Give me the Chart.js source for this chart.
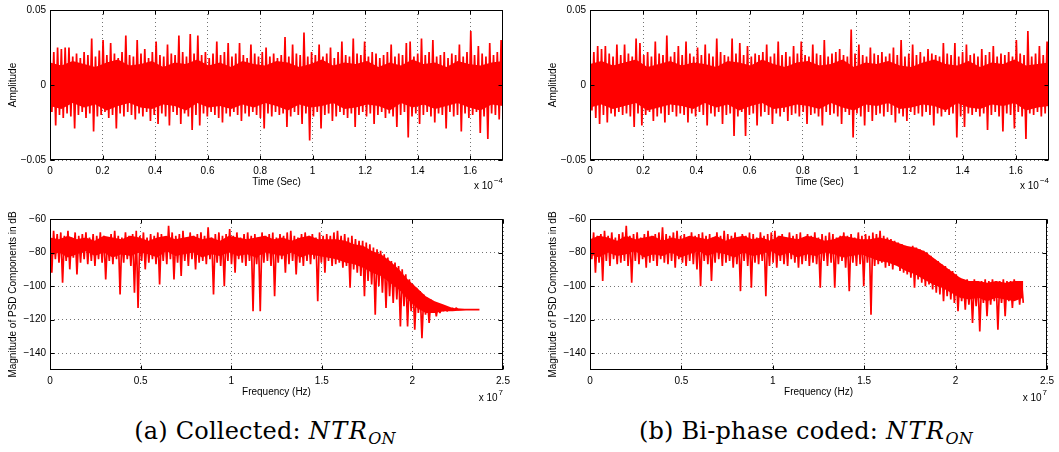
<!DOCTYPE html>
<html>
<head>
<meta charset="utf-8">
<script src="https://cdn.jsdelivr.net/npm/chart.js@4.4.1/dist/chart.umd.min.js"></script>
<style>
  body { margin: 0; background: #fff; width: 1059px; height: 452px; position: relative; overflow: hidden; }
  canvas { position: absolute; }
  .cap { position: absolute; top: 417px; font-family: 'DejaVu Serif', 'Liberation Serif', serif; font-size: 24px; letter-spacing: 0.2px; white-space: nowrap; transform: translateX(-50%); color: #000; }
  .cap i { letter-spacing: 1.5px; }
  .cap sub { font-size: 16px; font-style: italic; vertical-align: -5px; }
</style>
</head>
<body>
<canvas id="timeA" width="530" height="200" style="left:0;top:0"></canvas>
<canvas id="psdA" width="530" height="210" style="left:0;top:200px"></canvas>
<canvas id="timeB" width="519" height="200" style="left:540px;top:0"></canvas>
<canvas id="psdB" width="519" height="210" style="left:540px;top:200px"></canvas>
<div class="cap" style="left:265px">(a) Collected: <i>NTR</i><sub>ON</sub></div>
<div class="cap" style="left:806px">(b) Bi-phase coded: <i>NTR</i><sub>ON</sub></div>
<script>
// axes (time in units of 1e-4 s, frequency in units of 1e7 Hz)
const timeTicks = [0, 0.2, 0.4, 0.6, 0.8, 1, 1.2, 1.4, 1.6];
const tEnd = 1.725;
const ampTicks = [-0.05, 0, 0.05];
const freqTicks = [0, 0.5, 1, 1.5, 2, 2.5];
const fEnd = 2.37;
const dbTicks = [-60, -80, -100, -120, -140];

// time signal envelopes, amplitude in thousandths (peak / trough per sample)
const ampHiA = [20,22,25,24,25,25,19,21,18,22,20,31,19,23,30,20,28,21,18,22,
  33,20,19,30,21,24,18,22,29,20,19,27,21,20,33,22,19,34,21,33,
  20,22,18,21,29,20,22,28,19,21,28,20,18,27,21,19,22,25,19,21,
  18,20,32,19,27,21,20,35,19,22,20,27,19,21,25,18,22,29,20,19,
  31,21,20,29,19,22,21,18,20,22,27,19,21,20,28,29,19,21,31,20,
  22,30,19,20,22,18,21,20,27,19,22,36,20,26,21,19,28,20,22,30];
const ampLoA = [-18,-27,-20,-22,-19,-21,-29,-20,-18,-22,-19,-31,-21,-20,-18,-22,-20,-29,-19,-21,
  -18,-20,-23,-19,-21,-18,-24,-20,-26,-19,-21,-27,-18,-20,-26,-19,-21,-30,-20,-27,
  -19,-21,-18,-20,-22,-25,-19,-21,-18,-20,-24,-19,-21,-18,-20,-22,-29,-19,-21,-18,
  -20,-19,-28,-21,-18,-20,-26,-19,-37,-21,-18,-29,-20,-19,-24,-21,-18,-20,-22,-19,
  -28,-20,-18,-21,-19,-26,-20,-18,-22,-19,-21,-28,-20,-18,-35,-21,-19,-26,-20,-18,
  -21,-25,-19,-20,-29,-18,-21,-20,-31,-19,-22,-20,-18,-32,-21,-36,-19,-20,-23,-17];
const ampHiB = [20,22,26,24,26,21,19,27,20,27,21,19,31,28,20,22,19,29,21,20,
  33,19,22,26,20,29,21,19,25,20,27,21,19,31,22,20,19,31,21,28,
  20,26,19,21,20,22,27,19,21,29,20,22,19,26,21,29,20,19,27,21,
  20,30,19,21,22,24,20,19,37,21,27,20,19,25,21,20,22,19,21,25,
  20,30,19,21,27,20,22,19,24,21,20,19,28,21,20,28,19,22,27,20,
  21,19,24,20,22,26,19,21,20,22,19,30,21,20,36,19,21,26,20,29];
const ampLoB = [-17,-22,-26,-20,-25,-19,-21,-18,-20,-19,-21,-28,-19,-27,-20,-18,-24,-21,-19,-25,
  -20,-18,-21,-19,-20,-25,-19,-21,-18,-20,-27,-19,-21,-18,-26,-20,-19,-34,-21,-18,
  -34,-20,-19,-27,-21,-18,-20,-26,-19,-21,-18,-24,-20,-19,-21,-18,-26,-20,-19,-21,
  -27,-18,-20,-19,-21,-26,-18,-20,-35,-19,-21,-27,-18,-24,-20,-19,-21,-18,-20,-25,
  -19,-21,-24,-18,-20,-19,-21,-18,-20,-27,-19,-21,-18,-20,-19,-35,-21,-28,-19,-20,
  -18,-21,-19,-30,-20,-18,-21,-31,-19,-20,-29,-18,-21,-36,-19,-20,-18,-21,-19,-22];
// solid core of the time traces (thousandths), 41 points from 0 to tEnd
const ampCoreTopA = [15,13,16,14,12,15,17,13,14,16,12,15,14,17,13,15,12,16,14,13,16,15,12,14,17,13,15,14,16,12,15,13,17,14,15,12,16,14,13,15,16];
const ampCoreBotA = [-14,-16,-12,-15,-13,-17,-14,-12,-15,-16,-13,-14,-17,-12,-15,-14,-16,-13,-15,-12,-14,-17,-13,-15,-14,-12,-16,-15,-13,-14,-17,-12,-15,-13,-16,-14,-12,-15,-17,-13,-14];
const ampCoreTopB = [14,16,13,15,17,12,14,16,13,15,14,12,16,15,13,17,14,12,15,16,13,14,17,12,15,14,16,13,12,15,17,14,13,16,12,15,14,17,13,14,15];
const ampCoreBotB = [-15,-13,-16,-14,-12,-17,-15,-13,-14,-16,-12,-15,-13,-17,-14,-12,-16,-15,-13,-14,-16,-12,-15,-17,-13,-14,-12,-16,-15,-13,-14,-17,-12,-15,-16,-13,-14,-12,-17,-15,-14];

// PSD envelopes in dB (upper / lower per frequency bin)
const psdHiA = [-71,-67,-69,-68,-70,-67,-71,-68,-70,-69,
  -68,-71,-69,-70,-68,-70,-72,-69,-67,-70,
  -71,-68,-70,-69,-67,-70,-68,-71,-69,-70,
  -68,-69,-71,-64,-68,-70,-69,-67,-71,-68,
  -70,-69,-68,-70,-65,-71,-69,-68,-70,-69,
  -66,-70,-68,-71,-69,-68,-70,-69,-71,-68,
  -70,-69,-68,-71,-69,-70,-68,-67,-70,-71,
  -69,-68,-70,-69,-71,-68,-70,-69,-70,-68,
  -67,-70,-69,-71,-70,-72,-73,-73,-74,-75,
  -77,-78,-79,-81,-83,-85,-86,-88,-90,-93,
  -96,-99,-101,-103,-105,-107,-108,-110,-111,-112,
  -112,-113,-113,-113,-114,-114,-114,-114,-114,-114];
const psdLoA = [-92,-84,-86,-98,-85,-90,-83,-93,-86,-84,
  -87,-85,-88,-84,-86,-96,-85,-87,-84,-105,
  -86,-84,-88,-104,-113,-85,-90,-86,-84,-87,
  -99,-85,-87,-84,-96,-86,-94,-85,-88,-84,
  -90,-86,-85,-87,-84,-105,-86,-88,-100,-85,
  -87,-92,-84,-86,-88,-85,-115,-87,-115,-86,
  -85,-88,-106,-86,-84,-92,-87,-85,-93,-86,
  -88,-85,-87,-84,-109,-86,-92,-85,-88,-87,
  -86,-89,-88,-101,-90,-92,-94,-106,-97,-99,
  -117,-100,-104,-113,-106,-110,-108,-124,-112,-124,
  -115,-126,-116,-131,-117,-122,-116,-118,-116,-115,
  -115,-114.5,-114.5,-114,-114,-114,-114,-114,-114,-114];
const psdHiB = [-71,-68,-70,-69,-67,-70,-68,-71,-69,-68,
  -64,-70,-69,-68,-71,-69,-67,-70,-69,-68,
  -65,-69,-70,-68,-67,-70,-69,-71,-68,-70,
  -69,-68,-70,-69,-71,-68,-70,-67,-69,-70,
  -68,-71,-69,-70,-68,-69,-71,-68,-70,-69,
  -68,-67,-70,-69,-71,-68,-70,-69,-68,-71,
  -69,-70,-68,-71,-69,-70,-68,-69,-71,-70,
  -68,-70,-69,-71,-68,-70,-69,-70,-68,-69,
  -67,-70,-71,-72,-73,-74,-75,-76,-77,-76,
  -77,-78,-79,-80,-82,-84,-85,-87,-88,-90,
  -91,-93,-95,-96,-96,-97,-96,-97,-97,-96,
  -97,-96,-97,-97,-96,-97,-97,-96,-97,-97];
const psdLoB = [-84,-92,-86,-97,-85,-88,-84,-87,-86,-85,
  -88,-98,-85,-87,-84,-89,-86,-85,-88,-84,
  -86,-87,-85,-89,-84,-86,-88,-85,-87,-90,
  -100,-85,-87,-97,-86,-84,-88,-86,-85,-89,
  -87,-103,-85,-88,-101,-86,-87,-85,-106,-88,
  -86,-89,-85,-87,-88,-84,-86,-89,-87,-85,
  -88,-86,-87,-101,-85,-88,-86,-101,-87,-85,
  -89,-103,-86,-88,-87,-100,-86,-117,-88,-87,
  -86,-89,-88,-90,-87,-91,-92,-93,-95,-101,
  -96,-98,-100,-99,-102,-104,-105,-109,-106,-108,
  -110,-115,-109,-114,-111,-122,-112,-127,-110,-118,
  -111,-109,-126,-110,-118,-109,-113,-108,-111,-110];
// solid core of the PSD traces (dB), 49 points from 0 to fEnd
const psdCoreTopA = [-71,-72,-70,-72,-71,-73,-70,-71,-72,-70,-71,-73,-71,-70,-72,-71,-70,-72,-71,-73,
  -70,-71,-72,-71,-70,-72,-71,-73,-71,-70,-72,-72,-72,-73,-75,-76,-79,-81,-85,-90,
  -96,-101,-106,-109,-111,-113,-113.5,-114,-114];
const psdCoreBotA = [-82,-80,-83,-81,-79,-82,-80,-83,-81,-82,-80,-81,-83,-79,-82,-81,-80,-83,-81,-82,
  -80,-82,-81,-83,-80,-81,-82,-80,-83,-81,-82,-83,-84,-86,-87,-89,-92,-94,-98,-102,
  -108,-113,-116,-116,-115,-115,-114.5,-114,-114];
const psdCoreTopB = [-72,-70,-71,-73,-70,-72,-71,-70,-73,-71,-72,-70,-71,-72,-70,-73,-71,-70,-72,-71,
  -73,-70,-71,-72,-70,-71,-73,-72,-70,-71,-72,-72,-71,-72,-74,-76,-77,-79,-83,-87,
  -91,-95,-97,-97,-98,-97,-98,-97,-97];
const psdCoreBotB = [-81,-83,-80,-82,-81,-79,-83,-81,-82,-80,-83,-81,-79,-82,-80,-81,-83,-80,-82,-81,
  -79,-82,-80,-83,-81,-82,-80,-81,-83,-82,-81,-83,-85,-86,-88,-91,-93,-96,-99,-101,
  -104,-107,-108,-107,-109,-107,-108,-109,-107];

Chart.defaults.font.family = '"Liberation Sans", Arial, sans-serif';
Chart.defaults.font.size = 10;
Chart.defaults.color = '#000';

// interleave peaks and troughs into one sampled trace
function trace(hi, lo, xEnd, k) {
  const step = xEnd / (hi.length - 0.5);
  const pts = [];
  hi.forEach((h, i) => {
    pts.push({ x: i * step, y: h * k });
    pts.push({ x: (i + 0.5) * step, y: lo[i] * k });
  });
  return pts;
}

function band(vals, xEnd, k) {
  const step = xEnd / (vals.length - 1);
  return vals.map((v, i) => ({ x: i * step, y: v * k }));
}

const fmtNum = v => (v < 0 ? '\u2212' : '') + String(Math.abs(v));

// MATLAB-like box, inward ticks, axis titles and exponent label
const matlabBox = {
  id: 'matlabBox',
  afterDraw(chart, args, o) {
    const { ctx, chartArea: a, scales } = chart;
    const L = Math.round(a.left) + 0.5, R = Math.round(a.right) - 0.5;
    const T = Math.round(a.top) + 0.5, B = Math.round(a.bottom) - 0.5;
    ctx.save();
    ctx.strokeStyle = '#000';
    ctx.lineWidth = 1;
    ctx.setLineDash([]);
    ctx.strokeRect(L, T, R - L, B - T);
    ctx.beginPath();
    scales.x.ticks.forEach(t => {
      const px = Math.round(scales.x.getPixelForValue(t.value)) + 0.5;
      ctx.moveTo(px, B); ctx.lineTo(px, B - 4);
      ctx.moveTo(px, T); ctx.lineTo(px, T + 4);
    });
    scales.y.ticks.forEach(t => {
      const py = Math.round(scales.y.getPixelForValue(t.value)) + 0.5;
      ctx.moveTo(L, py); ctx.lineTo(L + 4, py);
      ctx.moveTo(R, py); ctx.lineTo(R - 4, py);
    });
    ctx.stroke();

    ctx.fillStyle = '#000';
    ctx.font = '10px "Liberation Sans", Arial, sans-serif';
    ctx.textAlign = 'center';
    ctx.textBaseline = 'middle';
    ctx.fillText(o.xTitle, (a.left + a.right) / 2, a.bottom + 22);
    ctx.save();
    ctx.translate(a.left - 37, (a.top + a.bottom) / 2);
    ctx.rotate(-Math.PI / 2);
    ctx.fillText(o.yTitle, 0, 0);
    ctx.restore();

    // "x 10^n"
    ctx.textBaseline = 'alphabetic';
    ctx.textAlign = 'right';
    ctx.font = '8px "Liberation Sans", Arial, sans-serif';
    const supW = ctx.measureText(o.exp).width;
    ctx.fillText(o.exp, a.right, a.bottom + o.expDy - 6);
    ctx.font = '10px "Liberation Sans", Arial, sans-serif';
    ctx.fillText('x 10', a.right - supW - 1, a.bottom + o.expDy);
    ctx.restore();
  }
};

function makePlot(id, cfg) {
  const red = '#ff0000';
  new Chart(document.getElementById(id), {
    type: 'line',
    data: {
      datasets: [
        { data: cfg.points, borderColor: red, borderWidth: 1.7, borderJoinStyle: 'bevel',
          pointRadius: 0, tension: 0, fill: false },
        { data: cfg.coreTop, borderColor: red, borderWidth: 0, backgroundColor: red,
          pointRadius: 0, tension: 0, fill: '+1' },
        { data: cfg.coreBot, borderColor: red, borderWidth: 0, pointRadius: 0, tension: 0, fill: false }
      ]
    },
    options: {
      responsive: false,
      animation: false,
      events: [],
      devicePixelRatio: 1,
      layout: { padding: { left: 0, top: cfg.padTop, right: cfg.padRight, bottom: 0 } },
      plugins: {
        legend: { display: false },
        tooltip: { enabled: false },
        matlabBox: cfg.box
      },
      scales: {
        x: {
          type: 'linear',
          min: 0,
          max: cfg.xMax,
          afterBuildTicks: s => { s.ticks = cfg.xTicks.map(v => ({ value: v })); },
          afterFit: s => { s.height = 40; },
          grid: { color: 'rgba(0,0,0,0.55)', lineWidth: 1, drawTicks: false },
          border: { display: false, dash: [1, 3] },
          ticks: { padding: 5, autoSkip: false, maxRotation: 0, callback: v => fmtNum(v) }
        },
        y: {
          type: 'linear',
          min: cfg.yMin,
          max: cfg.yMax,
          afterBuildTicks: s => { s.ticks = cfg.yTicks.map(v => ({ value: v })); },
          afterFit: s => { s.width = 50; },
          grid: { color: 'rgba(0,0,0,0.55)', lineWidth: 1, drawTicks: false },
          border: { display: false, dash: [1, 3] },
          ticks: { padding: 4, autoSkip: false, callback: v => fmtNum(v) }
        }
      }
    },
    plugins: [matlabBox]
  });
}

const timeBox = { xTitle: 'Time (Sec)', yTitle: 'Amplitude', exp: '\u22124', expDy: 29 };
const psdBox = { xTitle: 'Frequency (Hz)', yTitle: 'Magnitude of PSD Components in dB', exp: '7', expDy: 31 };

makePlot('timeA', { points: trace(ampHiA, ampLoA, tEnd, 0.001),
  coreTop: band(ampCoreTopA, tEnd, 0.001), coreBot: band(ampCoreBotA, tEnd, 0.001),
  xMax: tEnd, xTicks: timeTicks, yMin: -0.05, yMax: 0.05, yTicks: ampTicks, padTop: 8, padRight: 27, box: timeBox });
makePlot('psdA', { points: trace(psdHiA, psdLoA, fEnd, 1),
  coreTop: band(psdCoreTopA, fEnd, 1), coreBot: band(psdCoreBotA, fEnd, 1),
  xMax: 2.5, xTicks: freqTicks, yMin: -150, yMax: -60, yTicks: dbTicks, padTop: 19, padRight: 27, box: psdBox });
makePlot('timeB', { points: trace(ampHiB, ampLoB, tEnd, 0.001),
  coreTop: band(ampCoreTopB, tEnd, 0.001), coreBot: band(ampCoreBotB, tEnd, 0.001),
  xMax: tEnd, xTicks: timeTicks, yMin: -0.05, yMax: 0.05, yTicks: ampTicks, padTop: 8, padRight: 10, box: timeBox });
makePlot('psdB', { points: trace(psdHiB, psdLoB, fEnd, 1),
  coreTop: band(psdCoreTopB, fEnd, 1), coreBot: band(psdCoreBotB, fEnd, 1),
  xMax: 2.5, xTicks: freqTicks, yMin: -150, yMax: -60, yTicks: dbTicks, padTop: 19, padRight: 10, box: psdBox });
</script>
</body>
</html>
